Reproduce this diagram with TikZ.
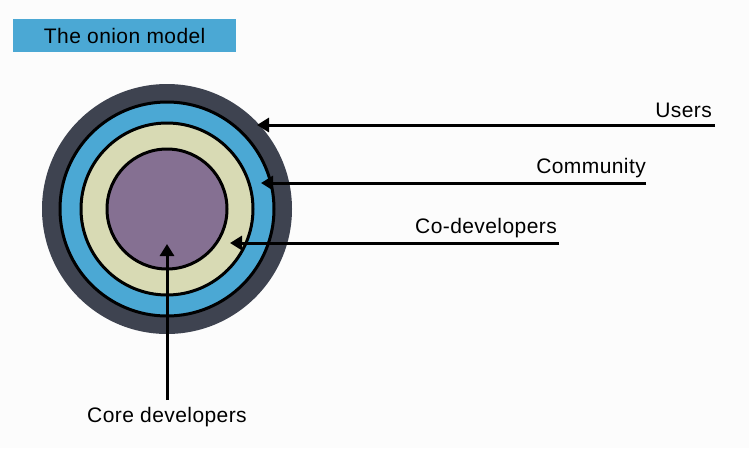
\documentclass[tikz,border=0pt]{standalone}
\usepackage{fontspec}
\setmainfont{Liberation Sans}[LetterSpace=2]
\usetikzlibrary{arrows.meta}
\definecolor{bg}{RGB}{252,252,252}
\definecolor{titleblue}{RGB}{75,168,212}
\definecolor{ringdark}{RGB}{62,67,80}
\definecolor{ringblue}{RGB}{75,168,212}
\definecolor{ringcream}{RGB}{216,218,180}
\definecolor{ringpurple}{RGB}{133,112,146}
\tikzset{
  lbl/.style={font=\fontsize{21}{24}\selectfont, inner sep=0pt},
  ringline/.style={draw=black, line width=3pt},
  pointer/.style={line width=3pt, -{Triangle[length=12pt,width=14pt]}}
}
\begin{document}
\begin{tikzpicture}[x=1pt,y=-1pt]
\fill[bg] (0,0) rectangle (749,448);
\useasboundingbox (0,0) rectangle (749,448);
% title
\node[fill=titleblue, minimum width=223pt, minimum height=33pt, inner sep=0pt, anchor=north west] (title) at (13,19) {};
\node[lbl] (titletext) at (title.center) {The onion model};
% rings
\coordinate (c) at (167,209);
\fill[ringdark] (c) circle[radius=125];
\path[ringline, fill=ringblue] (c) circle[radius=107];
\path[ringline, fill=ringcream] (c) circle[radius=86];
\path[ringline, fill=ringpurple] (c) circle[radius=60];
% connector ends
\coordinate (usersEnd) at (715,125);
\coordinate (usersTip) at (257,125);
\coordinate (commEnd) at (646,183);
\coordinate (commTip) at (261,183);
\coordinate (codevEnd) at (559,243);
\coordinate (codevTip) at (230,243);
\coordinate (coreEnd) at (167,400);
\coordinate (coreTip) at (167,244);
% labels
\node[lbl, anchor=base east] (users) at (712,117) {Users};
\node[lbl, anchor=base east] (comm) at (646,173) {Community};
\node[lbl, anchor=base east] (codev) at (557,233) {Co-developers};
\node[lbl, anchor=base] (core) at (167,422) {Core developers};
% connectors
\draw[pointer] (usersEnd) -- (usersTip);
\draw[pointer] (commEnd) -- (commTip);
\draw[pointer] (codevEnd) -- (codevTip);
\draw[pointer] (coreEnd) -- (coreTip);
\end{tikzpicture}
\end{document}
